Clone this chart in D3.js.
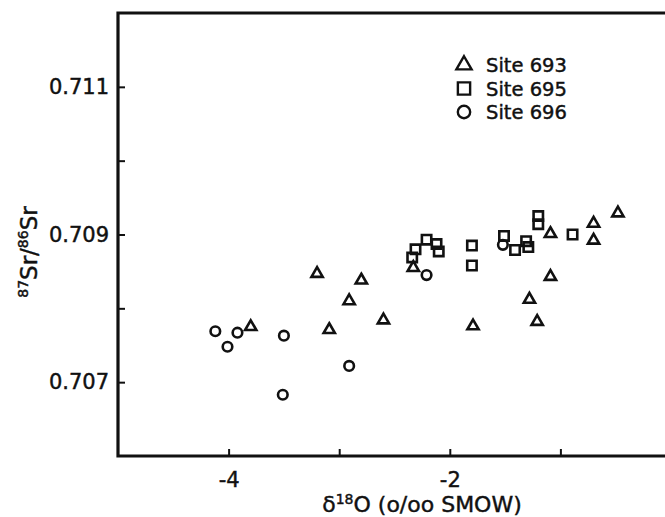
<!DOCTYPE html>
<html>
<head>
<meta charset="utf-8">
<script src="https://cdn.jsdelivr.net/npm/d3@7"></script>
<style>
  body { margin: 0; background: #fff; }
  svg { font-family: "DejaVu Sans", sans-serif; }
  text { stroke: #111; stroke-width: 0.45px; }
</style>
</head>
<body>
<svg id="plot"></svg>
<script>
// d18O (x) and 87Sr/86Sr (y)
const site693 = [
    [-3.80, 0.70775], [-3.20, 0.70847], [-2.80, 0.70838], [-2.91, 0.70810],
    [-3.09, 0.70771], [-2.60, 0.70784], [-2.33, 0.70855], [-1.79, 0.70776],
    [-1.28, 0.70812], [-1.21, 0.70782], [-1.09, 0.70843], [-1.09, 0.70901],
    [-0.70, 0.70892], [-0.70, 0.70915], [-0.48, 0.70929]
];
const site695 = [
    [-2.34, 0.70869], [-2.31, 0.70880], [-2.21, 0.70893], [-2.12, 0.70887],
    [-2.10, 0.70877], [-1.80, 0.70885], [-1.80, 0.70858], [-1.51, 0.70898],
    [-1.41, 0.70879], [-1.31, 0.70891], [-1.29, 0.70883], [-1.20, 0.70925],
    [-1.20, 0.70914], [-0.89, 0.70900]
];
const site696 = [
    [-4.12, 0.70769], [-4.01, 0.70748], [-3.92, 0.70767], [-3.50, 0.70763],
    [-3.51, 0.70683], [-2.91, 0.70722], [-2.21, 0.70845], [-1.52, 0.70886]
];

const xTicks = [-4, -3, -2, -1];
const xLabels = [-4, -2];
const yTicks = [0.707, 0.708, 0.709, 0.710, 0.711];
const yLabels = [0.707, 0.709, 0.711];
const legendNames = ["Site 693", "Site 695", "Site 696"];

const width = 665, height = 517;
const margin = { left: 118, top: 13, right: -6, bottom: 61 };

const svg = d3.select("#plot")
    .attr("width", width)
    .attr("height", height);

const x = d3.scaleLinear()
    .domain([-5, 0])
    .range([margin.left, width - margin.right]);

const y = d3.scaleLinear()
    .domain([0.706, 0.712])
    .range([height - margin.bottom, margin.top]);

// axes, ticks pointing inward
const xAxis = d3.axisBottom(x)
    .tickValues(xTicks)
    .tickSize(-7)
    .tickPadding(16)
    .tickFormat(d => xLabels.includes(d) ? String(d) : "");

const yAxis = d3.axisLeft(y)
    .tickValues(yTicks)
    .tickSize(-7)
    .tickPadding(9)
    .tickFormat(d => yLabels.some(v => Math.abs(v - d) < 1e-9) ? d3.format(".3f")(d) : "");

const gx = svg.append("g")
    .attr("transform", `translate(0,${y(0.706)})`)
    .call(xAxis);
const gy = svg.append("g")
    .attr("transform", `translate(${x(-5)},0)`)
    .call(yAxis);

[gx, gy].forEach(g => {
    g.select(".domain").remove();
    g.selectAll(".tick line").attr("stroke", "#111").attr("stroke-width", 2);
    g.selectAll(".tick text").attr("fill", "#111").attr("font-size", 21)
        .attr("font-family", "DejaVu Sans");
});

// frame (right side runs off the picture)
svg.append("path")
    .attr("d", `M${x(0)},${y(0.712)}H${x(-5)}V${y(0.706)}H${x(0)}`)
    .attr("fill", "none")
    .attr("stroke", "#111")
    .attr("stroke-width", 3.2);

const shapes = [d3.symbolTriangle, d3.symbolSquare, d3.symbolCircle];
const sizes = [55, 88, 72];
const series = [site693, site695, site696];

series.forEach((data, i) => {
    svg.append("g")
        .selectAll("path")
        .data(data)
        .join("path")
        .attr("transform", d => `translate(${x(d[0])},${y(d[1])})`)
        .attr("d", d3.symbol(shapes[i], sizes[i]))
        .attr("fill", "none")
        .attr("stroke", "#111")
        .attr("stroke-width", 2.6);
});

// legend
const legendSizes = [100, 150, 120];
const legend = svg.append("g").attr("transform", "translate(464,65)");
legendNames.forEach((name, i) => {
    legend.append("path")
        .attr("transform", `translate(0,${i * 23.5})`)
        .attr("d", d3.symbol(shapes[i], legendSizes[i]))
        .attr("fill", "none")
        .attr("stroke", "#111")
        .attr("stroke-width", 2.4);
    legend.append("text")
        .attr("x", 22)
        .attr("y", i * 23.5 + 7)
        .attr("font-size", 19.5)
        .attr("fill", "#111")
        .text(name);
});

// axis titles
const xt = svg.append("text")
    .attr("x", 422)
    .attr("y", 512)
    .attr("text-anchor", "middle")
    .attr("font-size", 22)
    .attr("fill", "#111");
xt.append("tspan").text("δ");
xt.append("tspan").attr("font-size", 14).attr("dy", -8).text("18");
xt.append("tspan").attr("dy", 8).text("O (o/oo SMOW)");

const yt = svg.append("text")
    .attr("transform", "translate(37,252) rotate(-90)")
    .attr("text-anchor", "middle")
    .attr("font-size", 23)
    .attr("fill", "#111");
yt.append("tspan").attr("font-size", 14).attr("dy", -9).text("87");
yt.append("tspan").attr("dy", 9).text("Sr/");
yt.append("tspan").attr("font-size", 14).attr("dy", -9).text("86");
yt.append("tspan").attr("dy", 9).text("Sr");
</script>
</body>
</html>
